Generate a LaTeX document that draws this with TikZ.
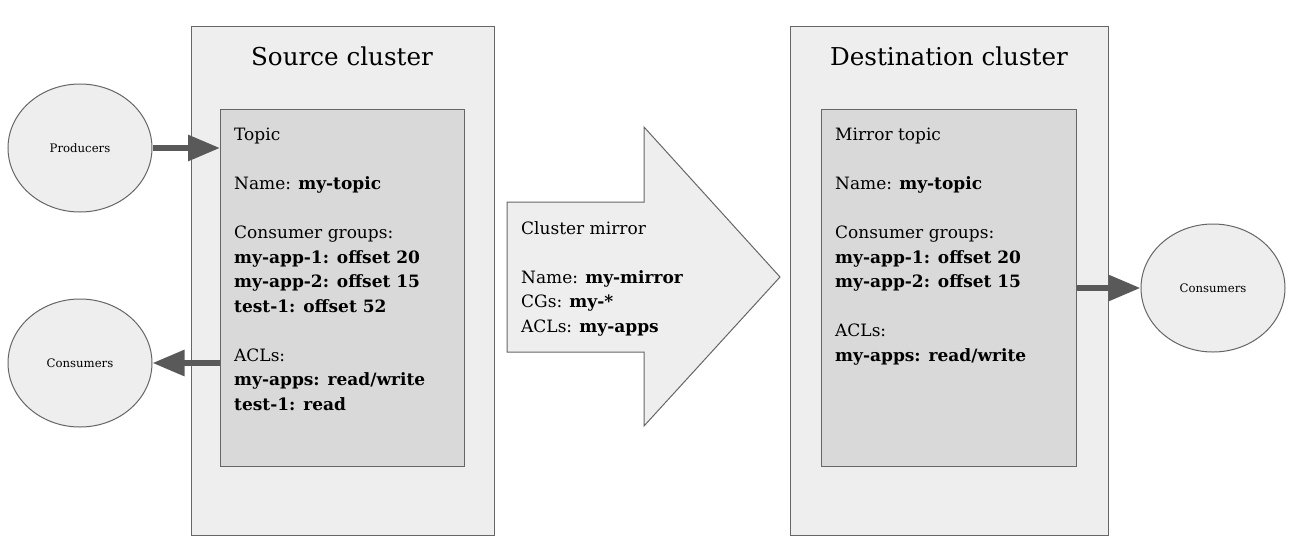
\documentclass[tikz,border=0pt]{standalone}
\usepackage{fontspec}
\setmainfont{DejaVu Serif}
\usetikzlibrary{
  shapes.geometric,
  arrows.meta,
  positioning,
  calc,
}
\definecolor{ink}{HTML}{000000}
\definecolor{edge}{HTML}{595959}
\definecolor{rim}{HTML}{666666}
\definecolor{clusterFill}{HTML}{EEEEEE}
\definecolor{topicFill}{HTML}{D9D9D9}
\tikzset{
  every node/.style={
    text=ink,
    inner sep=0pt,
  },
  cluster/.style={
    rectangle, draw=rim, line width=1pt,
    fill=clusterFill,
    anchor=north west,
  },
  topicbox/.style={
    rectangle, draw=rim, line width=1pt,
    fill=topicFill,
    anchor=north west,
  },
  client/.style={
    ellipse, draw=rim, line width=1pt,
    fill=clusterFill,
    minimum width=144pt, minimum height=128pt,
    font=\fontsize{11.7}{14}\selectfont,
  },
  title/.style={
    font=\fontsize{24.6}{29}\selectfont,
  },
  body/.style={
    anchor=north west, align=left,
    font=\fontsize{17}{24.5}\selectfont,
  },
  flow/.style={
    -{Triangle[length=32pt,width=25pt]},
    draw=edge, line width=6pt,
  },
  mirror/.style={
    draw=rim, line width=1pt, fill=clusterFill,
  },
}

\begin{document}
\begin{tikzpicture}[x=1pt, y=-1pt]
\useasboundingbox (0,0) rectangle (1294,555);

% ----- clusters -----
\node[cluster, minimum width=303pt, minimum height=509pt] (src) at (191,26) {};
\node[title] (srctitle) at (342,56) {Source cluster};
\node[topicbox, minimum width=244pt, minimum height=357pt] (topic) at (220,109) {};
\node[body] (topictext) at (234,128) {Topic\\[24.5pt]
  Name: \textbf{my-topic}\\[24.5pt]
  Consumer groups:\\
  \textbf{my-app-1: offset 20}\\
  \textbf{my-app-2: offset 15}\\
  \textbf{test-1: offset 52}\\[24.5pt]
  ACLs:\\
  \textbf{my-apps: read/write}\\
  \textbf{test-1: read}};

\node[cluster, minimum width=318pt, minimum height=509pt] (dst) at (790,26) {};
\node[title] (dsttitle) at (949,56) {Destination cluster};
\node[topicbox, minimum width=255pt, minimum height=357pt] (mtopic) at (821,109) {};
\node[body] (mtopictext) at (835,128) {Mirror topic\\[24.5pt]
  Name: \textbf{my-topic}\\[24.5pt]
  Consumer groups:\\
  \textbf{my-app-1: offset 20}\\
  \textbf{my-app-2: offset 15}\\[24.5pt]
  ACLs:\\
  \textbf{my-apps: read/write}};

% ----- clients -----
\node[client] (producers) at (80,148)  {Producers};
\node[client] (consumersL) at (80,363) {Consumers};
\node[client] (consumersR) at (1213,288) {Consumers};

% ----- mirror arrow -----
\draw[mirror] (507,202) -- (644,202) -- (644,127) -- (780,277)
  -- (644,426) -- (644,352) -- (507,352) -- cycle;
\node[body] (mirrortext) at (521,221) {Cluster mirror\\[24.5pt]
  Name: \textbf{my-mirror}\\
  CGs: \textbf{my-*}\\
  ACLs: \textbf{my-apps}};

% ----- edges -----
\draw[flow] (producers.east) -- (producers.east -| topic.west);
\draw[flow] (consumersL.east -| topic.west) -- (consumersL.east);
\draw[flow] (consumersR.west -| mtopic.east) -- (consumersR.west);

\end{tikzpicture}
\end{document}
